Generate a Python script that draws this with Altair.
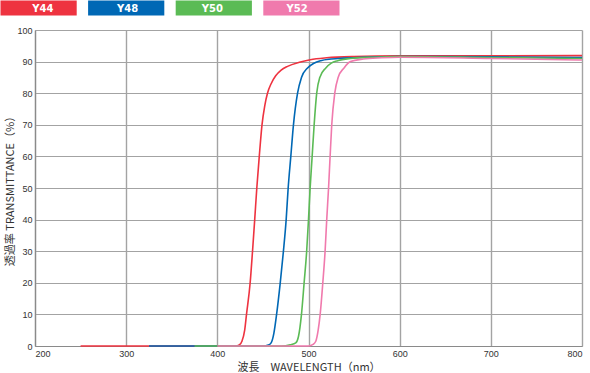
import altair as alt
import pandas as pd

series_names = ["Y44", "Y48", "Y50", "Y52"]
series_colors = ["#EE3340", "#0068B5", "#5BBB55", "#F07AAD"]

y44_wl = [250, 420, 424, 427, 430, 432, 436, 438.6, 441, 443.3, 446, 449, 452, 455, 459, 464, 470, 477, 490, 502, 520, 550, 600, 700, 800]
y44_t = [0, 0, 0.3, 1.5, 5, 10, 20, 30, 40, 50, 60, 70, 76, 80, 83, 85.5, 87.3, 88.5, 89.8, 90.6, 91.2, 91.6, 91.8, 91.8, 91.9]

y48_wl = [325, 450, 456, 459, 462, 465, 469, 472.5, 475.5, 477.7, 480.6, 483.5, 488, 492.3, 499, 506, 513.5, 525, 539, 560, 600, 700, 800]
y48_t = [0, 0, 0.3, 1, 4, 10, 20, 30, 40, 50, 60, 70, 80, 85, 88, 89.5, 90.3, 90.8, 91.1, 91.4, 91.6, 91.5, 91.3]

y50_wl = [375, 470, 480, 486, 489, 492.3, 495.2, 498, 500, 501.8, 504, 506.2, 509, 512.4, 519, 525, 532, 546, 570, 600, 700, 800]
y50_t = [0, 0, 0.4, 1, 3, 10, 20, 30, 40, 50, 60, 70, 80, 85, 88, 89.5, 90.3, 91, 91.4, 91.6, 91.3, 91.0]

y52_wl = [400, 500, 505, 508, 510.6, 512.8, 515.7, 518.2, 520, 522, 523.7, 525.5, 528.8, 532.5, 539, 546, 560, 580, 600, 700, 800]
y52_t = [0, 0, 0.5, 1.5, 5, 10, 20, 30, 40, 50, 60, 70, 80, 85, 88, 90, 90.8, 91.2, 91.4, 91.0, 90.5]

x_ticks = [200, 300, 400, 500, 600, 700, 800]
y_ticks = [0, 10, 20, 30, 40, 50, 60, 70, 80, 90, 100]

rows = []
for order, (name, wl, tv) in enumerate(zip(series_names,
                                            [y44_wl, y48_wl, y50_wl, y52_wl],
                                            [y44_t, y48_t, y50_t, y52_t])):
    for w, t in zip(wl, tv):
        rows.append({"series": name, "wl": w, "t": t, "ord": order})
df = pd.DataFrame(rows)

color_scale = alt.Scale(domain=series_names, range=series_colors)

lines = alt.Chart(df).mark_line(strokeWidth=1.6, interpolate="monotone").encode(
    x=alt.X("wl:Q",
            scale=alt.Scale(domain=[200, 800], nice=False, zero=False),
            axis=alt.Axis(values=x_ticks, title="波長\u3000WAVELENGTH（nm）",
                          gridColor="#a3a3a3", gridWidth=1.4)),
    y=alt.Y("t:Q",
            scale=alt.Scale(domain=[0, 100], nice=False),
            axis=alt.Axis(values=y_ticks, title="透過率 TRANSMITTANCE（%）",
                          titleX=-20, gridColor="#a3a3a3", gridWidth=1)),
    color=alt.Color("series:N", scale=color_scale, legend=None),
    detail="series:N",
    order="ord:Q",
)

leg_df = pd.DataFrame({"series": series_names})
leg_base = alt.Chart(leg_df).encode(
    x=alt.X("series:N", sort=series_names,
            scale=alt.Scale(paddingInner=0.13, paddingOuter=0, range=[-34.5, 304.5]),
            axis=None),
)
leg_rect = leg_base.mark_bar(height=15).encode(
    color=alt.Color("series:N", scale=color_scale, legend=None),
    y=alt.value(-22),
)
leg_text = leg_base.mark_text(color="white", fontWeight="bold", fontSize=10,
                              font="DejaVu Sans").encode(
    text="series:N",
    y=alt.value(-21.5),
)

chart = alt.layer(lines, leg_rect, leg_text).resolve_scale(
    x="independent", y="independent"
).properties(
    width=547, height=316,
    padding={"left": 0, "top": 0, "right": 0, "bottom": 0}
).configure_view(stroke=None).configure_axis(
    labelFont="Liberation Sans", labelFontSize=9, labelColor="#333333",
    titleFont="Noto Sans CJK JP", titleFontSize=11, titleFontWeight="normal",
    titleColor="#333333", domainColor="#8a8a8a", domainWidth=1.2,
    ticks=False, labelPadding=3,
).configure_axisX(titlePadding=3, labelPadding=3)

chart.save("out.html", embed_options={"renderer": "svg", "actions": False})
